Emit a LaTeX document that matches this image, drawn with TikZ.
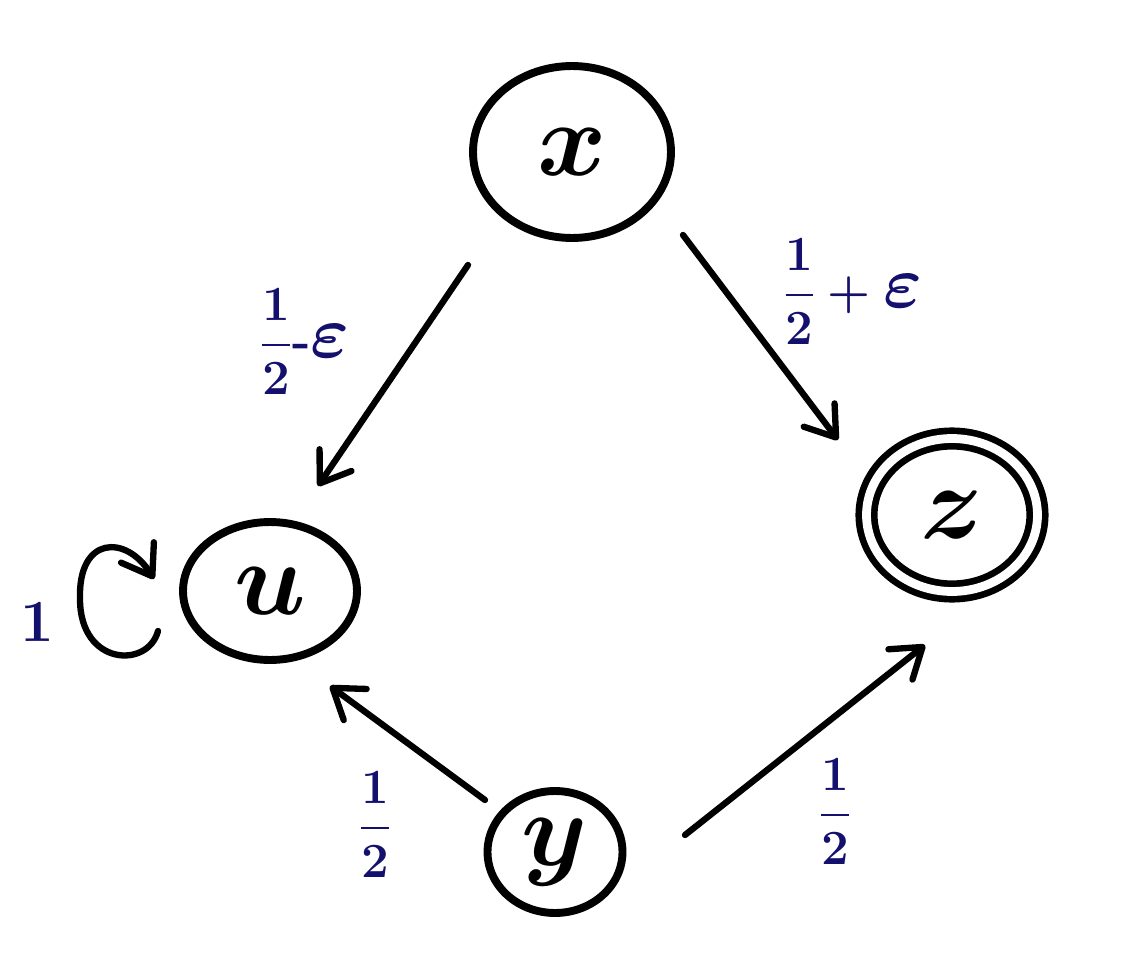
\RequirePackage{fix-cm}
\documentclass[tikz,border=0pt]{standalone}
\usepackage{amsmath}
\usetikzlibrary{shapes.geometric,arrows.meta,calc}
\definecolor{ink}{HTML}{14106E}
\newcommand{\bigeps}{\text{\fontsize{42}{42}\selectfont\boldmath$\varepsilon$}}
\begin{document}
\begin{tikzpicture}[x=0.02cm,y=-0.02cm,
  state/.style={draw,ellipse,line width=4.5pt,inner sep=0pt,font=\fontsize{60}{60}\selectfont\boldmath},
  arr/.style={line width=3.6pt,line cap=round,-{Straight Barb[length=16pt,width=22pt,line width=3.6pt,round]}},
  lab/.style={text=ink,font=\fontsize{28}{32}\selectfont\bfseries\boldmath}]
\useasboundingbox (0,0) rectangle (1134,970);
\node[state,minimum width=3.96cm,minimum height=3.44cm] (x) at (572,152) {$x$};
\node[state,minimum width=3.48cm,minimum height=2.76cm] (u) at (270,591) {$u$};
\node[state,double,line width=3.8pt,double distance=5pt,minimum width=3.42cm,minimum height=3.06cm] (z) at (952,515) {$z$};
\node[state,minimum width=2.7cm,minimum height=2.44cm] (y) at (555,852) {$y$};
\draw[arr] ($(x)+(-104,113)$) -- ($(u)+(48,-105)$);
\draw[arr] ($(x)+(111,83)$) -- ($(z)+(-114,-75)$);
\draw[arr] ($(y)+(-70,-52)$) -- ($(u)+(60,95)$);
\draw[arr] ($(y)+(130,-17)$) -- ($(z)+(-27,130)$);
\coordinate (ls) at ($(u)+(-112,40)$);
\coordinate (le) at ($(u)+(-116,-12)$);
\draw[arr] (ls) .. controls ($(ls)+(-10,38)$) and ($(ls)+(-78,35)$) .. ($(ls)+(-78,-32)$) .. controls ($(ls)+(-80,-95)$) and ($(le)+(-28,-45)$) .. (le);
\node[lab] (l1) at (305,342) {$\dfrac{1}{2}\mbox{-}\bigeps$};
\node[lab] (l2) at (853,292) {$\dfrac{1}{2}+\bigeps$};
\node[lab] (l3) at (375,825) {$\dfrac{1}{2}$};
\node[lab] (l4) at (835,812) {$\dfrac{1}{2}$};
\node[lab,font=\fontsize{34}{36}\selectfont\bfseries\boldmath] (l5) at (37,622) {$1$};
\end{tikzpicture}
\end{document}
